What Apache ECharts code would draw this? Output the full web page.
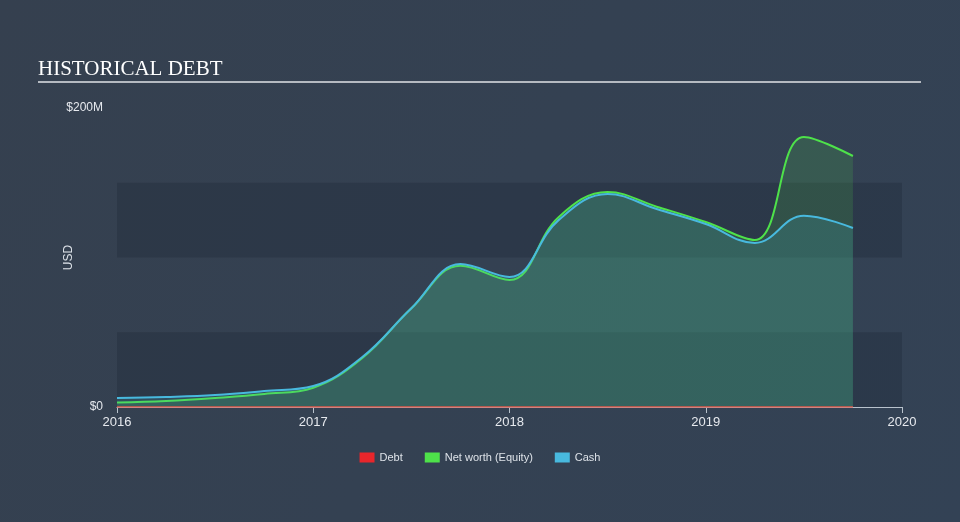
<!DOCTYPE html>
<html>
<head>
<meta charset="utf-8">
<script src="https://cdn.jsdelivr.net/npm/echarts@6/dist/echarts.min.js"></script>
<style>
html,body{margin:0;padding:0;background:#344254;}
#c{width:960px;height:522px;}
</style>
</head>
<body>
<div id="c"></div>
<script>
// Quarterly dates (fractional years)
const quarters = [2016, 2016.25, 2016.5, 2016.75, 2017, 2017.25, 2017.5, 2017.75, 2018, 2018.25, 2018.5, 2018.75, 2019, 2019.25, 2019.5, 2019.75];
// Values in $M
const debt      = [0, 0, 0, 0, 0, 0, 0, 0, 0, 0, 0, 0, 0, 0, 0, 0];
const netWorth  = [3, 4, 6, 8.7, 12.9, 32.8, 66, 94.5, 85, 127, 143.8, 134, 123.7, 111.7, 180.6, 167.9];
const cash      = [6, 6.7, 8, 10.7, 14, 33.4, 66, 95.6, 87, 125, 142.5, 132.4, 122.4, 109.7, 128, 119.7];
const yearTicks = [2016, 2017, 2018, 2019, 2020];
const seriesNames = ['Debt', 'Net worth (Equity)', 'Cash'];

const pair = (arr) => quarters.map((q, i) => [q, arr[i]]);

const chart = echarts.init(document.getElementById('c'), null, {renderer: 'canvas'});
chart.setOption({
  backgroundColor: {
    type: 'linear', x: 0, y: 0, x2: 1, y2: 1,
    colorStops: [{offset: 0, color: '#35404f'}, {offset: 1, color: '#334255'}]
  },
  animation: false,
  title: {
    text: 'HISTORICAL DEBT',
    left: 33, top: 54,
    textStyle: {fontFamily: 'Liberation Serif', fontSize: 21, fontWeight: 'normal', color: '#ffffff'}
  },
  graphic: [{
    type: 'line', shape: {x1: 38, y1: 82, x2: 921, y2: 82},
    style: {stroke: '#b5bac1', lineWidth: 2}
  }],
  legend: {
    top: 447, left: 'center',
    icon: 'rect', itemWidth: 15, itemHeight: 10, itemGap: 22,
    textStyle: {color: '#dde2e8', fontSize: 11, fontFamily: 'Liberation Sans'},
    data: seriesNames
  },
  grid: {left: 117, right: 58, top: 108, bottom: 115},
  xAxis: {
    type: 'value', min: 2016, max: 2020, interval: 1,
    axisLine: {show: true, lineStyle: {color: '#b8c2cc', width: 1}},
    axisTick: {show: true, length: 6, lineStyle: {color: '#b8c2cc'}},
    axisLabel: {color: '#e6e9ee', fontSize: 13, fontFamily: 'Liberation Sans', margin: 9,
      formatter: v => yearTicks.includes(v) ? String(v) : ''},
    splitLine: {show: false}
  },
  yAxis: {
    type: 'value', min: 0, max: 200, interval: 50,
    name: 'USD', nameLocation: 'middle', nameRotate: 90, nameGap: 42, nameMoveOverlap: false,
    nameTextStyle: {color: '#dde2e8', fontSize: 12, fontFamily: 'Liberation Sans'},
    axisLine: {show: false}, axisTick: {show: false},
    axisLabel: {color: '#e6e9ee', fontSize: 12, fontFamily: 'Liberation Sans', margin: 14,
      formatter: v => v === 0 ? '$0' : (v === 200 ? '$200M' : '')},
    splitLine: {show: false},
    splitArea: {show: true, areaStyle: {color: ['rgba(20,28,40,0.22)', 'rgba(0,0,0,0)']}}
  },
  series: [
    {
      name: 'Debt', type: 'line', data: pair(debt), showSymbol: false,
      itemStyle: {color: '#e8262b'}, lineStyle: {color: '#e0584a', width: 1.5}, z: 4
    },
    {
      name: 'Net worth (Equity)', type: 'line', data: pair(netWorth), showSymbol: false,
      smooth: 0.4,
      itemStyle: {color: '#4ee24a'}, lineStyle: {color: '#4ee24a', width: 2},
      areaStyle: {color: 'rgba(78,200,74,0.26)'}, z: 2
    },
    {
      name: 'Cash', type: 'line', data: pair(cash), showSymbol: false,
      smooth: 0.4,
      itemStyle: {color: '#48b9de'}, lineStyle: {color: '#48b9de', width: 2},
      areaStyle: {color: 'rgba(70,180,200,0.25)'}, z: 3
    }
  ]
});
</script>
</body>
</html>
